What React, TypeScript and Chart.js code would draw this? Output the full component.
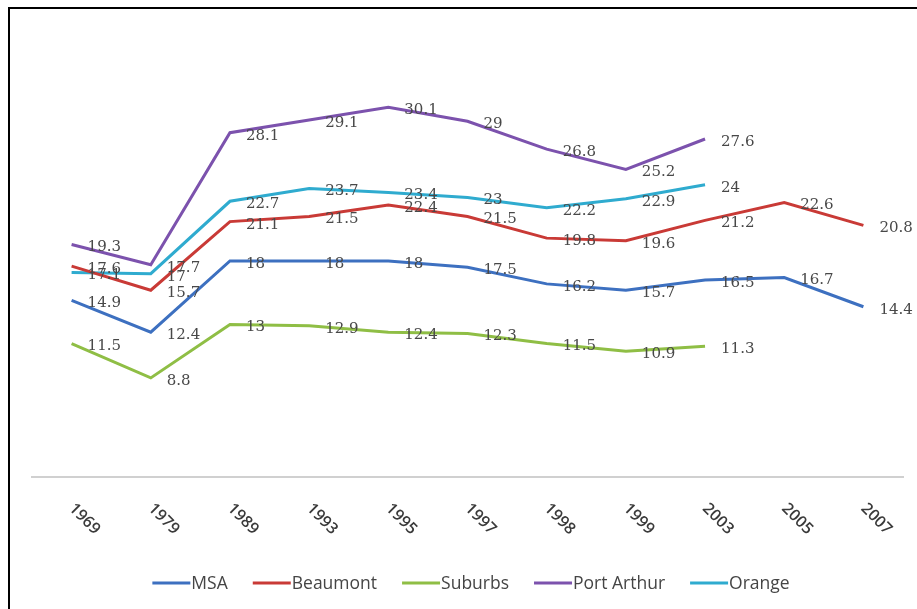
import React, { useEffect, useRef } from "react";
import { Chart, registerables } from "chart.js";

Chart.register(...registerables);

const categories = ["1969", "1979", "1989", "1993", "1995", "1997", "1998", "1999", "2003", "2005", "2007"];
const msa = [14.9, 12.4, 18, 18, 18, 17.5, 16.2, 15.7, 16.5, 16.7, 14.4];
const beaumont = [17.6, 15.7, 21.1, 21.5, 22.4, 21.5, 19.8, 19.6, 21.2, 22.6, 20.8];
const suburbs = [11.5, 8.8, 13, 12.9, 12.4, 12.3, 11.5, 10.9, 11.3, null, null];
const portArthur = [19.3, 17.7, 28.1, 29.1, 30.1, 29, 26.8, 25.2, 27.6, null, null];
const orange = [17.1, 17, 22.7, 23.7, 23.4, 23, 22.2, 22.9, 24, null, null];

const seriesNames = ["MSA", "Beaumont", "Suburbs", "Port Arthur", "Orange"];
const seriesColors = ["#3d70c0", "#c93a36", "#8fbe45", "#7c52ad", "#2fabcf"];

const dataLabelPlugin = {
  id: "dataLabels",
  afterDatasetsDraw(chart: any) {
    const ctx = chart.ctx;
    ctx.save();
    ctx.font = "15px 'DejaVu Serif'";
    ctx.fillStyle = "#484848";
    ctx.textAlign = "left";
    ctx.textBaseline = "middle";
    chart.data.datasets.forEach((ds: any, di: number) => {
      const meta = chart.getDatasetMeta(di);
      meta.data.forEach((pt: any, i: number) => {
        const v = ds.data[i];
        if (v === null || v === undefined) return;
        ctx.fillText(String(v), pt.x + 16, pt.y + 3);
      });
    });
    ctx.restore();
  },
};

const tickLabelPlugin = {
  id: "rotTicks",
  afterDraw(chart: any) {
    const ctx = chart.ctx;
    const xs = chart.scales.x;
    ctx.save();
    ctx.font = "600 16px 'Open Sans'";
    ctx.fillStyle = "#3a3a3a";
    ctx.textAlign = "left";
    ctx.textBaseline = "middle";
    categories.forEach((c, i) => {
      const x = xs.getPixelForValue(i);
      ctx.save();
      ctx.translate(x, 506);
      ctx.rotate(Math.PI / 4);
      ctx.fillText(c, 0, 0);
      ctx.restore();
    });
    ctx.restore();
  },
};

const legendPlugin = {
  id: "customLegend",
  afterDraw(chart: any) {
    const ctx = chart.ctx;
    ctx.save();
    ctx.font = "17.5px 'Open Sans'";
    ctx.textAlign = "left";
    ctx.textBaseline = "middle";
    const lineW = 38;
    const gapText = 1;
    const gapItem = 25;
    const widths = seriesNames.map((n) => ctx.measureText(n).width);
    const total = widths.reduce((a, w) => a + lineW + gapText + w, 0) + gapItem * (seriesNames.length - 1);
    let x = 471 - total / 2;
    const y = 583;
    seriesNames.forEach((n, i) => {
      ctx.strokeStyle = seriesColors[i];
      ctx.lineWidth = 3;
      ctx.beginPath();
      ctx.moveTo(x, y);
      ctx.lineTo(x + lineW, y);
      ctx.stroke();
      ctx.fillStyle = "#454545";
      ctx.fillText(n, x + lineW + gapText, y + 1);
      x += lineW + gapText + widths[i] + gapItem;
    });
    ctx.restore();
  },
};

export default function App() {
  const ref = useRef<HTMLCanvasElement | null>(null);
  useEffect(() => {
    if (!ref.current) return;
    const series = [msa, beaumont, suburbs, portArthur, orange];
    const chart = new Chart(ref.current, {
      type: "line",
      data: {
        labels: categories,
        datasets: series.map((d, i) => ({
          label: seriesNames[i],
          data: d,
          borderColor: seriesColors[i],
          backgroundColor: seriesColors[i],
          borderWidth: 3,
          pointRadius: 0,
          tension: 0,
          fill: false,
        })),
      },
      options: {
        responsive: true,
        maintainAspectRatio: false,
        animation: false,
        layout: { padding: { left: 32, right: 14, top: 45, bottom: 0 } },
        plugins: { legend: { display: false }, tooltip: { enabled: false } },
        scales: {
          x: {
            type: "category",
            offset: true,
            grid: { display: false },
            border: { display: true, color: "#d0d0d0", width: 2 },
            ticks: { display: false },
            afterFit(scale: any) {
              scale.height = 132;
            },
          },
          y: { display: false, min: 1, max: 35 },
        },
      } as any,
      plugins: [dataLabelPlugin, tickLabelPlugin, legendPlugin],
    });
    return () => chart.destroy();
  }, []);
  return (
    <div style={{ position: "absolute", left: 0, top: 0, width: 917, height: 609, background: "#fff", overflow: "hidden" }}>
      <canvas ref={ref} />
      <div
        style={{
          position: "absolute",
          left: 8,
          top: 7,
          width: 917,
          height: 609,
          borderTop: "2px solid #000",
          borderLeft: "2px solid #000",
          pointerEvents: "none",
        }}
      />
    </div>
  );
}
